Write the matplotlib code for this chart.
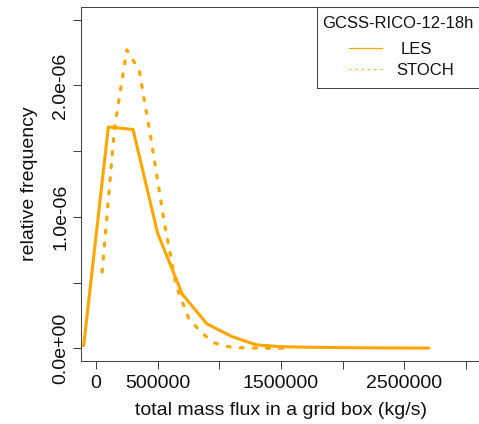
import matplotlib
matplotlib.use('Agg')
import matplotlib.pyplot as plt
from matplotlib.patches import Rectangle
from matplotlib.lines import Line2D

plt.rcParams['font.family'] = ['Liberation Sans', 'DejaVu Sans']

# ---- data ----
les_x = [-100000, 100000, 300000, 500000, 700000, 900000, 1100000, 1300000,
         1500000, 1700000, 1900000, 2100000, 2300000, 2500000, 2700000]
les_y = [0.020e-6, 1.684e-6, 1.665e-6, 0.875e-6, 0.411e-6, 0.185e-6, 0.090e-6, 0.026e-6,
         0.012e-6, 0.008e-6, 0.006e-6, 0.004e-6, 0.003e-6, 0.002e-6, 0.001e-6]

stoch_x = [50000, 150000, 250000, 350000, 450000, 550000, 650000, 750000,
           850000, 950000, 1050000, 1150000, 1250000, 1350000, 1450000, 1550000]
stoch_y = [0.58e-6, 1.676e-6, 2.27e-6, 2.117e-6, 1.57e-6, 0.976e-6, 0.474e-6, 0.231e-6,
           0.124e-6, 0.044e-6, 0.015e-6, 0.005e-6, 0.002e-6, 0.001e-6, 0.0005e-6, 0.0002e-6]

xticks = [0, 500000, 1000000, 1500000, 2000000, 2500000, 3000000]
xticklabels = ['0', '500000', '', '1500000', '', '2500000', '']
yticks = [0.0, 0.5e-6, 1.0e-6, 1.5e-6, 2.0e-6, 2.5e-6]
yticklabels = ['0.0e+00', '', '1.0e-06', '', '2.0e-06', '']
xlim = (0, 3000000)
ylim = (0, 2.5e-6)

legend_title = 'GCSS-RICO-12-18h'
series_names = ['LES', 'STOCH']
xlabel = 'total mass flux in a grid box (kg/s)'
ylabel = 'relative frequency'

ORANGE = '#FFA500'
AXC = '#444444'

# ---- layout ----
W, H = 479, 424
fig = plt.figure(figsize=(W / 100, H / 100), dpi=100)


def fx(px):
    return px / W


def fy(py):
    return 1 - py / H


ax_left, ax_right, ax_top, ax_bottom = 81.2, 480.8, 6.6, 361.4
ax = fig.add_axes([fx(ax_left), fy(ax_bottom),
                   (ax_right - ax_left) / W, (ax_bottom - ax_top) / H])

# R-style 4% range extension
dx = (xlim[1] - xlim[0]) * 0.04
dy = (ylim[1] - ylim[0]) * 0.04
ax.set_xlim(xlim[0] - dx, xlim[1] + dx)
ax.set_ylim(ylim[0] - dy, ylim[1] + dy)

ax.plot(les_x, les_y, color=ORANGE, lw=2.2, solid_joinstyle='round',
        solid_capstyle='round')
ax.plot(stoch_x, stoch_y, color=ORANGE, lw=2.3, linestyle=(0, (0.9, 3.2)),
        dash_capstyle='round', dash_joinstyle='round')

for s in ax.spines.values():
    s.set_color(AXC)
    s.set_linewidth(0.75)

ax.set_xticks(xticks)
ax.set_xticklabels(xticklabels, fontsize=14)
ax.set_yticks(yticks)
ax.set_yticklabels(yticklabels, fontsize=14, rotation=90, va='center')
ax.tick_params(axis='x', length=5.76, width=0.75, color=AXC, pad=3.7,
               labelcolor='#111111')
ax.tick_params(axis='y', length=5.76, width=0.75, color=AXC, pad=2.7,
               labelcolor='#111111')

fig.text(fx(281), fy(410.5), xlabel, ha='center', va='center', fontsize=14,
         color='#111111')
fig.text(fx(29.5), fy(184), ylabel, ha='center', va='center', rotation=90,
         fontsize=14, color='#111111')

# ---- legend (top-right, R style) ----
leg_left, leg_bottom = 317.3, 88.3
rect = Rectangle((fx(leg_left), fy(leg_bottom)), fx(ax_right + 5) - fx(leg_left),
                 fy(ax_top) - fy(leg_bottom), transform=fig.transFigure,
                 facecolor='none', edgecolor=AXC, lw=0.75, clip_on=False)
fig.add_artist(rect)
fig.text(fx(321.7), fy(28.3), legend_title, ha='left', va='baseline',
         fontsize=12, color='#111111')
fig.add_artist(Line2D([fx(349.3), fx(381.7)], [fy(47.7), fy(47.7)],
                      transform=fig.transFigure, color=ORANGE, lw=0.9))
fig.add_artist(Line2D([fx(349.3), fx(381.7)], [fy(69.3), fy(69.3)],
                      transform=fig.transFigure, color=ORANGE, lw=0.9,
                      linestyle=(0, (1.5, 3.5))))
fig.text(fx(401), fy(54.2), series_names[0], ha='left', va='baseline',
         fontsize=12, color='#111111')
fig.text(fx(396.7), fy(75.2), series_names[1], ha='left', va='baseline',
         fontsize=12, color='#111111')

fig.savefig('out.png', dpi=100)
